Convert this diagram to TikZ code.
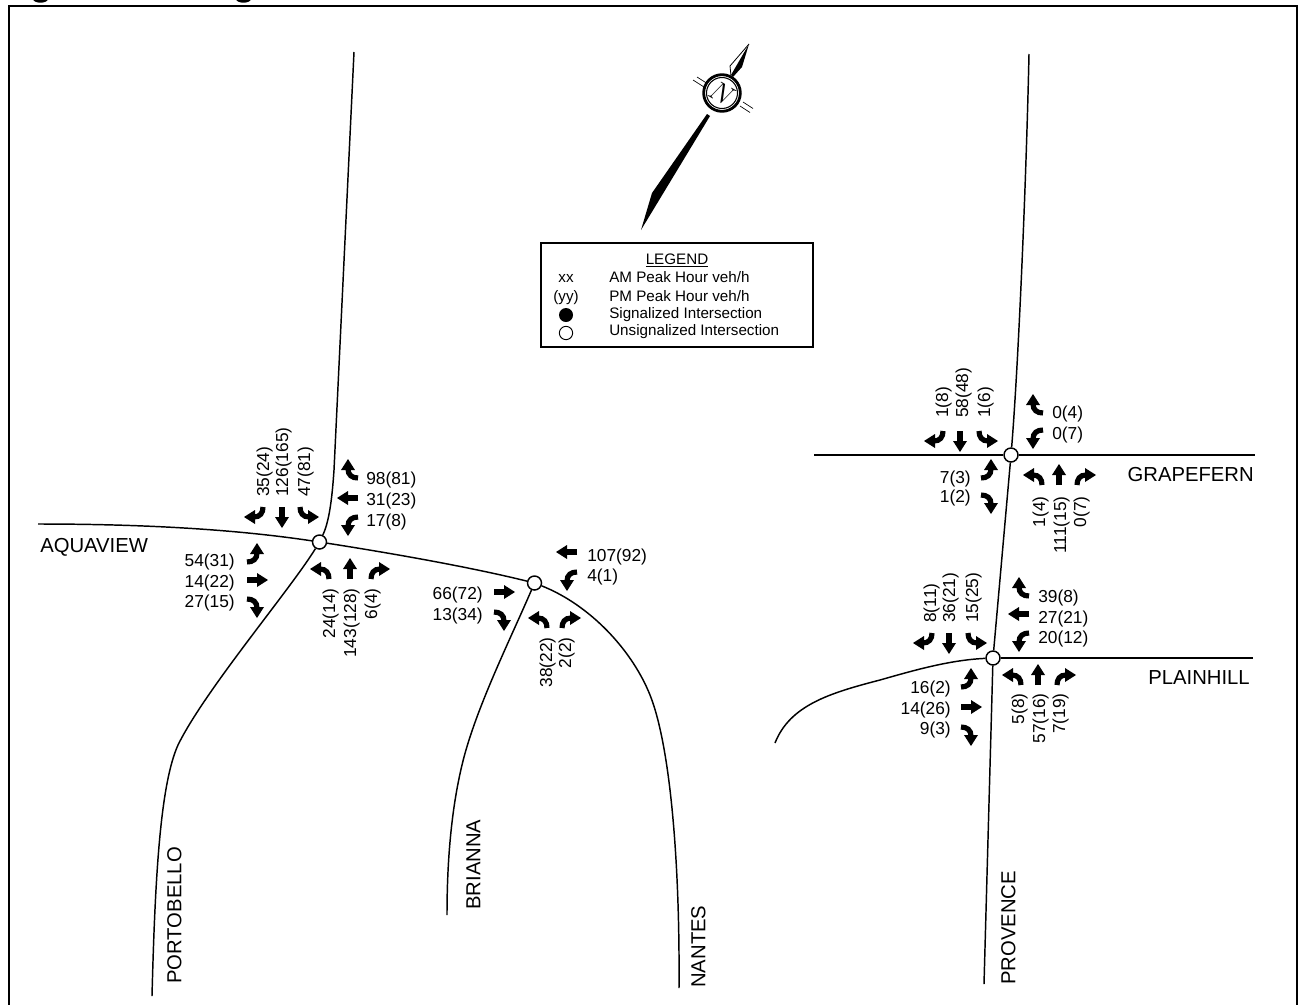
\documentclass[tikz,border=0pt]{standalone}
\usepackage{fontspec}
\setmainfont{Liberation Sans}
\tikzset{
    road/.style={line width=1.1pt},
    junction/.style={circle, draw, line width=1.1pt, minimum size=10.5pt, inner sep=0pt},
    vol/.style={inner sep=0pt, text height=9.3pt, text depth=0pt, font=\fontsize{13}{13}\selectfont},
    street/.style={inner sep=0pt, text height=11pt, text depth=0pt, font=\fontsize{15.2}{16}\selectfont},
    key/.style={inner sep=0pt, text height=8.2pt, text depth=0pt, font=\fontsize{11.4}{12}\selectfont},
    pics/thruarrow/.style={code={
        \draw[line width=3.9pt](0,0)--(11,0);
        \fill(10,-7)--(21,0)--(10,7)--cycle;
    }},
    pics/leftarrow/.style={code={
        \draw[line width=3.9pt](0,0)..controls(6,0) and (10,-3)..(10,-9);
        \fill(3,-8)--(10,-19)--(17,-8)--cycle;
    }},
    pics/rightarrow/.style={code={
        \draw[line width=3.9pt](0,0)..controls(6,0) and (10,3)..(10,9);
        \fill(3,8)--(10,19)--(17,8)--cycle;
    }}
}
\begin{document}
\begin{tikzpicture}[x=0.75pt,y=-0.75pt]
    \useasboundingbox (0,0) rectangle (1299,1004);
    \draw[line width=1.8pt](9,1015)--(9,6)--(1297,6)--(1297,1015);
    \fill(40.5,-1) ellipse (7.5 and 3.7);
    \fill(243.5,-1) ellipse (7.5 and 3.7);

    % intersections
    \node[junction](aq) at (319.5,542) {};
    \node[junction](br) at (534.5,583) {};
    \node[junction](gr) at (1011,455) {};
    \node[junction](pl) at (993,658) {};

    \coordinate(aqN) at (354,52);
    \coordinate(aqW) at (38,524);
    \coordinate(poS) at (152,996);
    \coordinate(brS) at (447,915);
    \coordinate(naS) at (679,988);
    \coordinate(grN) at (1029,54);
    \coordinate(grW) at (814,455);
    \coordinate(grE) at (1255,455);
    \coordinate(plE) at (1253,658);
    \coordinate(plW) at (775,743);
    \coordinate(prS) at (984,984);

    % roads
    \draw[road](aqN)--(334,470)..controls(332,500) and (329,522)..(aq);
    \draw[road](aqW)..controls(150,524) and (240,530)..(aq);
    \draw[road](aq)..controls(290,590) and (205,690)..(178,745)
        ..controls(160,785) and (155,880)..(poS);
    \draw[road](aq)..controls(390,553) and (470,567)..(br);
    \draw[road](br)..controls(590,605) and (632,650)..(650,695)
        ..controls(670,745) and (680,860)..(naS);
    \draw[road](br)..controls(510,640) and (475,710)..(462,765)
        ..controls(450,815) and (447,870)..(brS);
    \draw[road](grN)..controls(1026,190) and (1018,370)..(gr);
    \foreach \k/\l in {grW/gr, gr/grE, gr/pl, pl/plE, pl/prS}{\draw[road](\k)--(\l);}
    \draw[road](pl)..controls(950,660) and (915,670)..(880,680)
        ..controls(830,693) and (790,705)..(plW);

    % street names
    \node[street, anchor=west](aquaview) at (40,545) {AQUAVIEW};
    \node[street, anchor=east](grapefern) at (1254,474) {GRAPEFERN};
    \node[street, anchor=east](plainhill) at (1250,677) {PLAINHILL};
    \foreach \k/\x/\y/\t in {portobello/174/984/PORTOBELLO, brianna/473/910/BRIANNA,
        nantes/698/988/NANTES, provence/1008/985/PROVENCE}{
        \node[street, rotate=90, anchor=west](\k) at (\x,\y) {\t};
    }

    % volumes, read left to right
    \foreach \k/\x/\y/\t in {ae1/366/478/98(81), ae2/366/499/31(23), ae3/366/520/17(8),
        be1/587/555/107(92), be2/587/575/4(1),
        ge1/1052/412/0(4), ge2/1052/433/0(7),
        pe1/1038/596/39(8), pe2/1038/617/27(21), pe3/1038/637/20(12)}{
        \node[vol, anchor=west](\k) at (\x,\y) {\t};
    }
    \foreach \k/\x/\y/\t in {aw1/235/560/54(31), aw2/235/581/14(22), aw3/235/601/27(15),
        bw1/483/593/66(72), bw2/483/614/13(34),
        gw1/971/477/7(3), gw2/971/496/1(2),
        pw1/951/687/16(2), pw2/951/708/14(26), pw3/951/728/9(3)}{
        \node[vol, anchor=east](\k) at (\x,\y) {\t};
    }
    \foreach \k/\x/\y/\t in {an1/263/497/35(24), an2/282/497/126(165), an3/304/497/47(81),
        gn1/942/418/1(8), gn2/962/418/58(48), gn3/984/418/1(6),
        pn1/930/623/8(11), pn2/949/623/36(21), pn3/972/623/15(25)}{
        \node[vol, rotate=90, anchor=west](\k) at (\x,\y) {\t};
    }
    \foreach \k/\x/\y/\t in {as1/329/588/24(14), as2/350/588/143(128), as3/371/588/6(4),
        bs1/546/637/38(22), bs2/565/637/2(2),
        gs1/1039/496/1(4), gs2/1060/496/111(15), gs3/1080/496/0(7),
        ps1/1018/693/5(8), ps2/1039/693/57(16), ps3/1059/693/7(19)}{
        \node[vol, rotate=90, anchor=east](\k) at (\x,\y) {\t};
    }

    % turning arrows
    \foreach \x/\y/\a in {247/580/0, 350/579/90, 282/507/-90, 358/498/180,
        577/552/180, 494/592/0,
        960/431/-90, 1059/485/90,
        949/633/-90, 1029/614/180, 961/707/0, 1038/685/90}{
        \pic[rotate=\a] at (\x,\y) {thruarrow};
    }
    \foreach \x/\y/\a in {247/562/0, 329/579/90, 300/507/-90, 358/517/180,
        577/572/180, 547/628/90,
        979/431/-90, 1043/430/180, 981/478/0, 1042/485/90,
        968/633/-90, 1029/633/180, 961/687/0, 1021/685/90}{
        \pic[rotate=\a] at (\x,\y) {leftarrow};
    }
    \foreach \x/\y/\a in {247/599/0, 371/579/90, 263/507/-90, 358/478/180,
        494/612/0, 562/628/90,
        943/431/-90, 1043/413/180, 981/495/0, 1077/485/90,
        932/633/-90, 1029/596/180, 961/727/0, 1057/685/90}{
        \pic[rotate=\a] at (\x,\y) {rightarrow};
    }

    % north arrow
    \fill(641,230)--(652,193)--(707,114)--(710,116)--cycle;
    \fill(749,44)--(742,67)--(733,77)--(731,75)--cycle;
    \draw[line width=0.6pt](749,44)--(730,66)--(731,76);
    \foreach \k/\l in {693/80, 697/77}{\draw[line width=0.5pt](\k,\l)--++(11,7);}
    \foreach \k/\l in {740/106, 743/102}{\draw[line width=0.5pt](\k,\l)--++(10,6.5);}
    \node[circle, draw, fill=white, line width=2.1pt, minimum size=27.5pt, inner sep=0pt](compass) at (722,93) {};
    \node[circle, draw, line width=0.8pt, minimum size=21.5pt, inner sep=0pt, rotate=-30,
        font=\fontsize{21}{21}\selectfont](north) at (722,93) {$N$};

    % legend
    \node[draw, line width=0.8pt, minimum width=204pt, minimum height=78pt, inner sep=0pt](legend) at (677,295) {};
    \node[key, text depth=2pt](legendtitle) at (677,260) {\underline{LEGEND}};
    \node[key](am) at (566,277) {xx};
    \node[key](pm) at (566,296) {(yy)};
    \node[key, anchor=west](amtext) at (609,277) {AM Peak Hour veh/h};
    \node[key, anchor=west](pmtext) at (609,296) {PM Peak Hour veh/h};
    \node[key, anchor=west](sigtext) at (609,313) {Signalized Intersection};
    \node[key, anchor=west](unsigtext) at (609,330) {Unsignalized Intersection};
    \node[circle, fill, minimum size=10.5pt, inner sep=0pt](sig) at (566,315) {};
    \node[circle, draw, line width=0.7pt, minimum size=10pt, inner sep=0pt](unsig) at (566,333) {};
\end{tikzpicture}
\end{document}
